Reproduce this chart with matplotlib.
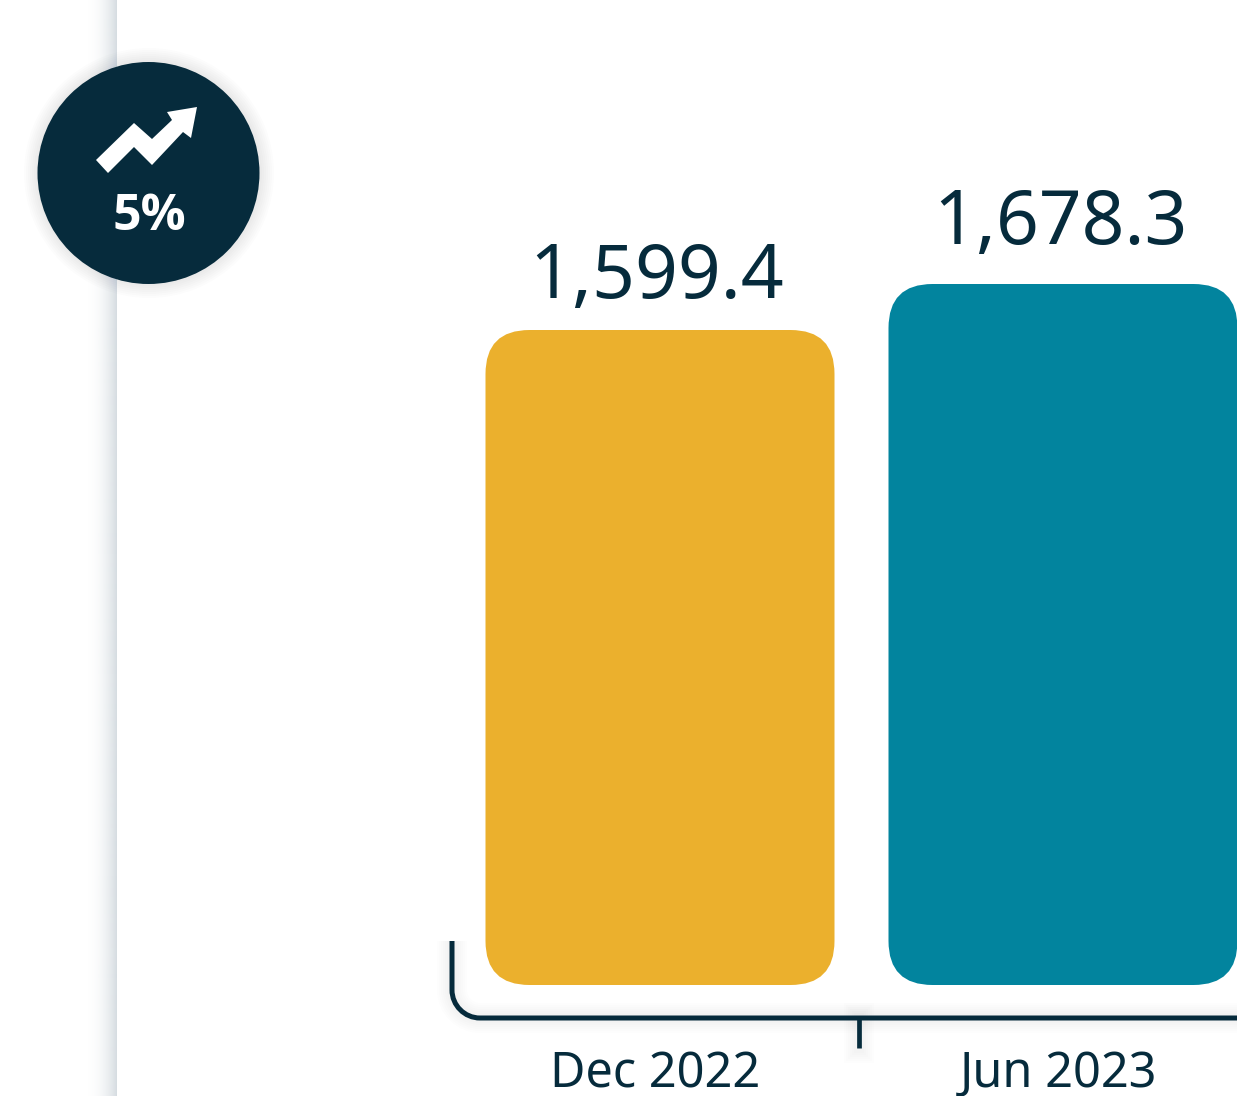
import numpy as np
import matplotlib
matplotlib.use("Agg")
import matplotlib.pyplot as plt
from matplotlib.patches import Circle, FancyBboxPatch, PathPatch, Polygon
from matplotlib.path import Path

periods = ["Dec 2022", "Jun 2023"]
values = [1599.4, 1678.3]
value_labels = ["1,599.4", "1,678.3"]
bar_colors = ["#EBB02D", "#02849E"]
change_label = "5%"

dark = "#062B3C"
W, H = 1237, 1096

plt.rcParams["font.family"] = ["Noto Sans", "DejaVu Sans"]
fig = plt.figure(figsize=(W / 100, H / 100), dpi=100)

# pixel axes for the decorations
pix = fig.add_axes([0, 0, 1, 1], zorder=2)
pix.set_xlim(0, W)
pix.set_ylim(H, 0)
pix.axis("off")

# data axes for the bars, scale
px_per_unit = 46 / (values[1] - values[0])
y_base = values[0] - 655 / px_per_unit
px_per_cat = 403
ax = fig.add_axes([0, 0, 1, 1], zorder=3)
ax.patch.set_alpha(0)
ax.axis("off")
ax.set_xlim(-660 / px_per_cat, (W - 660) / px_per_cat)
ax.set_ylim(y_base - (H - 985) / px_per_unit, y_base + 985 / px_per_unit)

# left panel edge shadow
grad = np.linspace(0, 1, 32)[None, :] ** 2.2
rgba = np.zeros((1, 32, 4))
rgba[..., :3] = matplotlib.colors.to_rgb("#C9D2D8")
rgba[..., 3] = grad * 0.75
pix.imshow(rgba, extent=[85, 117, H, 0], aspect="auto", zorder=1, interpolation="bilinear")
pix.set_xlim(0, W)
pix.set_ylim(H, 0)

# badge with soft shadow
for r in range(14, 0, -2):
    pix.add_patch(Circle((149, 173), 111 + r, color=dark, alpha=0.012, lw=0, zorder=2))
pix.add_patch(Circle((148.5, 173), 111, color=dark, lw=0, zorder=3))
arrow = [(96, 160), (134, 123), (152, 139), (172, 120), (167, 112), (197, 107),
         (191, 138), (183, 132), (152, 165), (134, 147), (108, 173)]
pix.add_patch(Polygon(arrow, closed=True, color="white", lw=0, zorder=4))
pix.text(149.5, 230, change_label, color="white", fontsize=36, fontweight="bold",
         family=["Open Sans", "DejaVu Sans"], ha="center", va="baseline", zorder=4)

# bracket axis with soft shadow
k = 0.55 * 28
verts = [(452, 941), (452, 990), (452, 990 + k), (480 - k, 1018), (480, 1018), (W + 5, 1018)]
codes = [Path.MOVETO, Path.LINETO, Path.CURVE4, Path.CURVE4, Path.CURVE4, Path.LINETO]
bracket = Path(verts, codes)
for lw in range(30, 6, -4):
    pix.add_patch(PathPatch(bracket, fc="none", ec=dark, lw=lw * 0.72, alpha=0.006, zorder=2))
    pix.plot([859, 859], [1018, 1048], color=dark, lw=lw * 0.72, alpha=0.006, zorder=2)
pix.add_patch(PathPatch(bracket, fc="none", ec=dark, lw=3.6, capstyle="butt", zorder=3))
pix.plot([859, 859], [1018, 1048], color=dark, lw=3.4, solid_capstyle="butt", zorder=3)

# bars
bar_w = 349 / px_per_cat
r_px = 44
label_gap = [32, 40]
for i, (v, c) in enumerate(zip(values, bar_colors)):
    r = r_px / px_per_cat
    box = FancyBboxPatch((i - bar_w / 2 + r, y_base + r_px / px_per_unit),
                         bar_w - 2 * r, v - y_base - 2 * r_px / px_per_unit,
                         boxstyle=f"round,pad={r},rounding_size={r}",
                         mutation_aspect=px_per_cat / px_per_unit,
                         fc=c, ec="none")
    ax.add_patch(box)
    ax.annotate(value_labels[i], (i, v), xytext=(-3, label_gap[i]), textcoords="offset pixels",
                ha="center", va="baseline", color=dark, fontsize=54)
    pix.text(655 + 403 * i, 1087, periods[i], ha="center", va="baseline",
             color=dark, fontsize=35, zorder=4)

fig.savefig("out.png", dpi=100)
